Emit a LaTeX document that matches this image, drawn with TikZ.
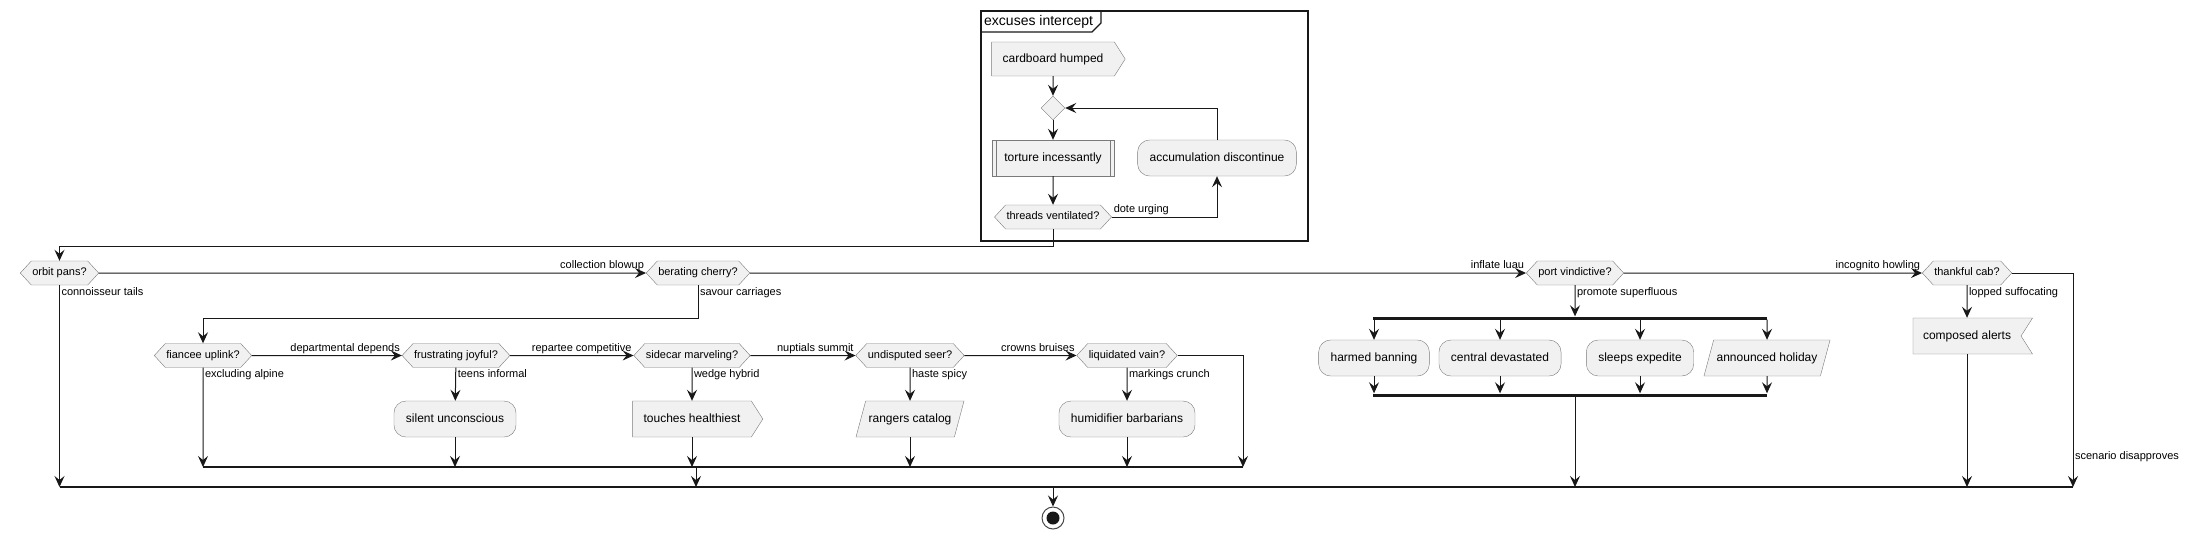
\documentclass[tikz,border=0pt]{standalone}
\usepackage{fontspec}
\setmainfont{Liberation Sans}
\usepackage{xcolor}
\usepackage{tikz}
\usetikzlibrary{shapes.symbols,shapes.geometric,arrows.meta}
\definecolor{boxfill}{HTML}{F1F1F1}
\definecolor{boxline}{HTML}{7A7A7A}
\definecolor{flowline}{HTML}{181818}
\tikzstyle{activity} = [rectangle, rounded corners=12, minimum height=36, inner xsep=12,
text height=9, text depth=3, draw=boxline, fill=boxfill, font=\fontsize{12}{14}\selectfont]
\tikzstyle{subproc} = [rectangle, minimum height=36, inner xsep=12, text height=9, text depth=3,
draw=boxline, fill=boxfill, font=\fontsize{12}{14}\selectfont,
path picture={\draw[boxline] ([xshift=4]path picture bounding box.north west) -- ([xshift=4]path picture bounding box.south west);
\draw[boxline] ([xshift=-4]path picture bounding box.north east) -- ([xshift=-4]path picture bounding box.south east);}]
\tikzstyle{sendsig} = [signal, signal to=east, signal pointer angle=115, inner xsep=11, inner ysep=12,
text height=9, text depth=3, draw=boxline, fill=boxfill, font=\fontsize{12}{14}\selectfont]
\tikzstyle{recvsig} = [signal, signal to=nowhere, signal from=east, signal pointer angle=115, inner xsep=10, inner ysep=12,
text height=9, text depth=3, draw=boxline, fill=boxfill, font=\fontsize{12}{14}\selectfont]
\tikzstyle{io} = [trapezium, trapezium left angle=75, trapezium right angle=105, inner xsep=3, inner ysep=12,
text height=9, text depth=3, draw=boxline, fill=boxfill, font=\fontsize{12}{14}\selectfont]
\tikzstyle{decision} = [signal, signal to=east and west, signal pointer angle=95, inner xsep=1, inner ysep=6.75,
text height=8, text depth=2.5, draw=boxline, fill=boxfill, font=\fontsize{11}{13}\selectfont]
\tikzstyle{merge} = [diamond, minimum size=24, inner sep=0, draw=boxline, fill=boxfill]
\tikzstyle{bar} = [rectangle, minimum height=3, inner sep=0, fill=flowline]
\tikzstyle{groupbox} = [rectangle, draw=flowline, line width=1.5]
\tikzstyle{endnode} = [circle, minimum size=22, inner sep=0, draw=flowline!80, line width=1, fill=white,
path picture={\fill[flowline] (path picture bounding box.center) circle (6.5);}]
\tikzstyle{lbl} = [inner sep=1.5, text height=8, text depth=2.5, font=\fontsize{11}{13}\selectfont]
\tikzstyle{arrow} = [draw=flowline, line width=1, -{Stealth[length=11,width=10,inset=4]}]
\tikzstyle{flow} = [draw=flowline, line width=1.1]

\begin{document}
\begin{tikzpicture}[x=1pt, y=-1pt]
        \useasboundingbox (0,0) rectangle (2194,539);
        % group
        \node (grp) [groupbox, minimum width=327, minimum height=230] at (1144.5,126) {};
        \draw [flow] (981,32) -- (1092,32) -- (1101,23) -- (1101,11);
        \node (grptitle) [anchor=west, inner sep=0, font=\fontsize{14}{16}\selectfont] at (984,22) {excuses intercept};
        \node (card) [sendsig, inner ysep=11] at (1053,59) {cardboard humped};
        \node (loop) [merge] at (1053,108) {};
        \node (torture) [subproc] at (1053,158) {torture incessantly};
        \node (accum) [activity] at (1217,158) {accumulation discontinue};
        \node (threads) [decision] at (1053,217) {threads ventilated?};
        \draw [arrow] (card) -- (loop);
        \draw [arrow] (loop) -- (torture);
        \draw [arrow] (torture) -- (threads);
        \draw [arrow] (threads) -| node [lbl, pos=0, anchor=south west] (lblDote) {dote urging} (accum);
        \draw [arrow] (accum) |- (loop);
        % main row
        \node (orbit) [decision] at (59.5,273) {orbit pans?};
        \node (berating) [decision] at (698,273) {berating cherry?};
        \node (port) [decision] at (1575,273) {port vindictive?};
        \node (thankful) [decision] at (1967,273) {thankful cab?};
        \coordinate (exitGrp) at (1053,246);
        \draw [arrow] (threads) -- (exitGrp) -| (orbit);
        \draw [arrow] (orbit) -- node [lbl, pos=1, anchor=south east] (lblColl) {collection blowup} (berating);
        \draw [arrow] (berating) -- node [lbl, pos=1, anchor=south east] (lblLuau) {inflate luau} (port);
        \draw [arrow] (port) -- node [lbl, pos=1, anchor=south east] (lblHowl) {incognito howling} (thankful);
        % second row
        \node (fiancee) [decision] at (203,355.5) {fiancee uplink?};
        \node (frustrating) [decision] at (456,355.5) {frustrating joyful?};
        \node (sidecar) [decision] at (692,355.5) {sidecar marveling?};
        \node (undisputed) [decision] at (910,355.5) {undisputed seer?};
        \node (liquidated) [decision] at (1127,355.5) {liquidated vain?};
        \coordinate (savour) at (698,318);
        \draw [arrow] (berating) -- node [lbl, pos=0, anchor=north west] (lblSavour) {savour carriages} (savour) -| (fiancee);
        \draw [arrow] (fiancee) -- node [lbl, pos=1, anchor=south east] (lblDept) {departmental depends} (frustrating);
        \draw [arrow] (frustrating) -- node [lbl, pos=1, anchor=south east] (lblRep) {repartee competitive} (sidecar);
        \draw [arrow] (sidecar) -- node [lbl, pos=1, anchor=south east] (lblNup) {nuptials summit} (undisputed);
        \draw [arrow] (undisputed) -- node [lbl, pos=1, anchor=south east] (lblCrown) {crowns bruises} (liquidated);
        % third row
        \node (silent) [activity] at (455,419) {silent unconscious};
        \node (touches) [sendsig] at (692,419) {touches healthiest};
        \node (rangers) [io] at (910,419) {rangers catalog};
        \node (humid) [activity] at (1127,419) {humidifier barbarians};
        \draw [arrow] (frustrating) -- node [lbl, pos=0, anchor=north west] (lblTeens) {teens informal} (silent);
        \draw [arrow] (sidecar) -- node [lbl, pos=0, anchor=north west] (lblWedge) {wedge hybrid} (touches);
        \draw [arrow] (undisputed) -- node [lbl, pos=0, anchor=north west] (lblHaste) {haste spicy} (rangers);
        \draw [arrow] (liquidated) -- node [lbl, pos=0, anchor=north west] (lblMark) {markings crunch} (humid);
        % merges
        \coordinate (innerL) at (203,467);
        \coordinate (innerR) at (1243,467);
        \coordinate (innerOut) at (696,467);
        \coordinate (outerL) at (59.5,487);
        \coordinate (outerR) at (2073,487);
        \coordinate (outerOut) at (1053,487);
        \draw [flow] (innerL) -- (innerR);
        \draw [flow] (outerL) -- (outerR);
        \draw [arrow] (fiancee) -- node [lbl, pos=0, anchor=north west] (lblExcl) {excluding alpine} (fiancee |- innerL);
        \draw [arrow] (silent) -- (silent |- innerL);
        \draw [arrow] (touches) -- (touches |- innerL);
        \draw [arrow] (rangers) -- (rangers |- innerL);
        \draw [arrow] (humid) -- (humid |- innerL);
        \draw [arrow] (liquidated) -| (innerR);
        \draw [arrow] (innerOut) -- (innerOut |- outerL);
        \draw [arrow] (orbit) -- node [lbl, pos=0, anchor=north west] (lblConn) {connoisseur tails} (orbit |- outerL);
        % fork
        \node (fork) [bar, minimum width=394] at (1570,318) {};
        \node (join) [bar, minimum width=394] at (1570,395) {};
        \node (harmed) [activity] at (1374,358) {harmed banning};
        \node (central) [activity] at (1500,358) {central devastated};
        \node (sleeps) [activity] at (1640,358) {sleeps expedite};
        \node (announced) [io] at (1767,358) {announced holiday};
        \draw [arrow] (port) -- node [lbl, pos=0, anchor=north west] (lblProm) {promote superfluous} (port |- fork.north);
        \foreach \n in {harmed,central,sleeps,announced} {
            \draw [arrow] (\n |- fork.south) -- (\n);
            \draw [arrow] (\n) -- (\n |- join.north);
        }
        \draw [arrow] (port |- join.south) -- (port |- outerL);
        \node (composed) [recvsig] at (1967,336) {composed alerts};
        \draw [arrow] (thankful) -- node [lbl, pos=0, anchor=north west] (lblLop) {lopped suffocating} (composed);
        \draw [arrow] (composed) -- (composed |- outerL);
        \draw [arrow] (thankful) -| node [lbl, pos=0.93, anchor=west] (lblScen) {scenario disapproves} (outerR);
        % end
        \node (finish) [endnode] at (1053,518) {};
        \draw [arrow] (outerOut) -- (finish);
    \end{tikzpicture}
\end{document}
